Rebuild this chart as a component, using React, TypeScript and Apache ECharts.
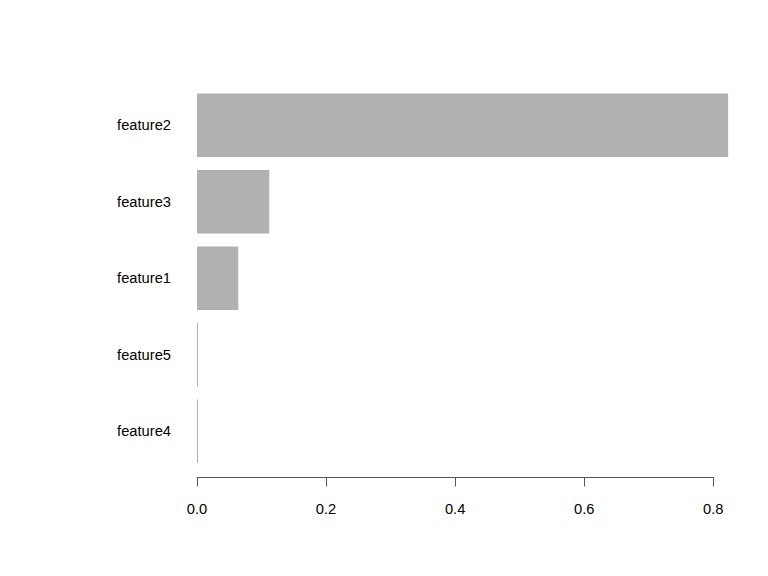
import React, { useEffect, useRef } from 'react';
import * as echarts from 'echarts';

// 特征重要性（从上到下）
const features = ['feature2', 'feature3', 'feature1', 'feature5', 'feature4'];
const importance = [0.823, 0.112, 0.064, 0, 0];
const xTicks = [0, 0.2, 0.4, 0.6, 0.8];

const FONT = '"Liberation Sans", Arial, sans-serif';

const App: React.FC = () => {
    const chartRef = useRef<HTMLDivElement>(null);

    useEffect(() => {
        document.body.style.margin = '0';
        if (!chartRef.current) return;
        const chart = echarts.init(chartRef.current, undefined, { renderer: 'svg' });

        chart.setOption({
            animation: false,
            backgroundColor: '#ffffff',
            grid: { left: 197, right: 54.7, top: 87, bottom: 106.5 },
            xAxis: {
                type: 'value',
                min: xTicks[0],
                max: xTicks[xTicks.length - 1],
                interval: 0.2,
                offset: 8,
                axisLine: { show: true, lineStyle: { color: '#555', width: 1 } },
                axisTick: { show: true, inside: false, length: 9, lineStyle: { color: '#555', width: 1 } },
                axisLabel: {
                    margin: 24,
                    color: '#000',
                    fontFamily: FONT,
                    fontSize: 14.7,
                    formatter: (v: number) => v.toFixed(1),
                },
                splitLine: { show: false },
            },
            yAxis: {
                type: 'category',
                data: features,
                inverse: true,
                axisLine: { show: false },
                axisTick: { show: false },
                axisLabel: {
                    margin: 26,
                    color: '#000',
                    fontFamily: FONT,
                    fontSize: 14.7,
                },
            },
            series: [
                {
                    type: 'bar',
                    data: importance,
                    barCategoryGap: '16.7%',
                    barMinHeight: 1,
                    clip: false,
                    itemStyle: { color: '#b1b1b1' },
                },
            ],
        });

        return () => chart.dispose();
    }, []);

    return <div ref={chartRef} style={{ width: 768, height: 576 }} />;
};

export default App;
